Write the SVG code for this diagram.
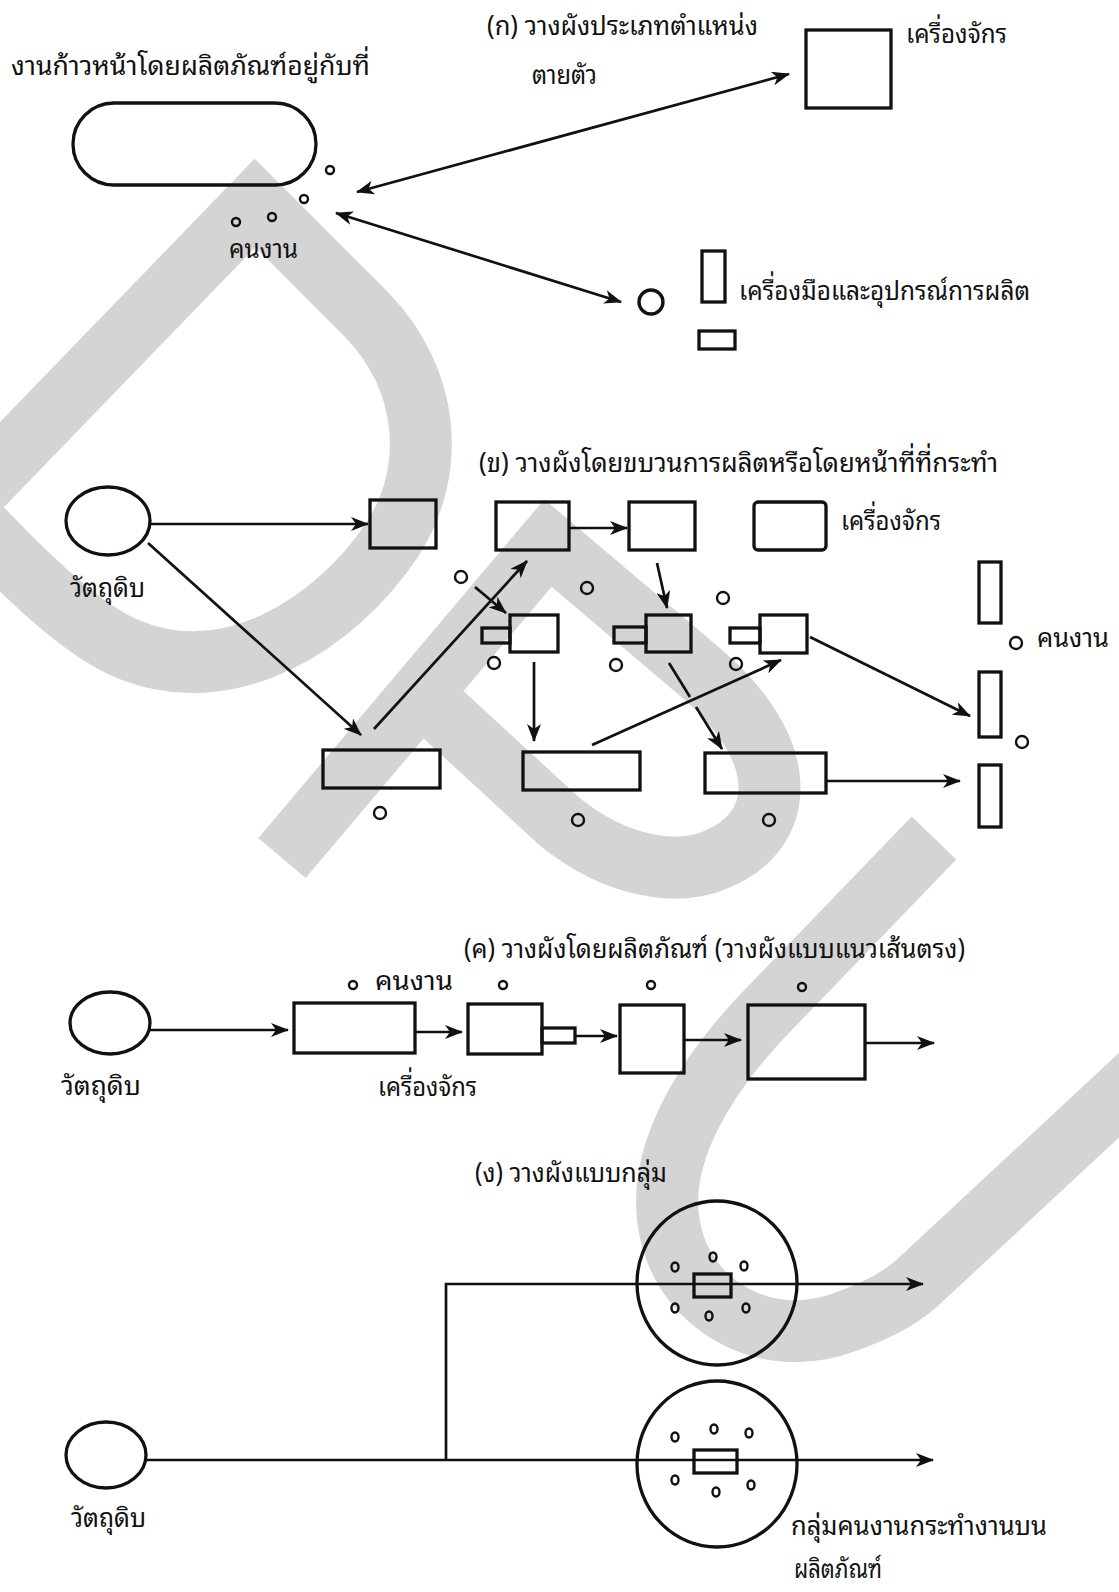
<svg xmlns="http://www.w3.org/2000/svg" width="1119" height="1592" viewBox="0 0 1119 1592">
  <defs>
    <style>
      .wm { fill: none; stroke: #d4d4d4; stroke-width: 62; stroke-linejoin: miter; stroke-miterlimit: 6; }
      .ln { fill: none; stroke: #111; stroke-width: 2.7; }
      .bx { fill: none; stroke: #111; stroke-width: 3.3; }
      .dot { fill: none; stroke: #111; stroke-width: 2.4; }
      .ar { fill: none; stroke: #111; stroke-width: 2.7; marker-end: url(#ah); }
      .ar2 { fill: none; stroke: #111; stroke-width: 2.7; marker-start: url(#ah); marker-end: url(#ah); }
      .t { font-family: "Noto Sans Thai Looped", "Noto Serif Thai", "Noto Sans Thai", "Loma", "Garuda", "DejaVu Sans", "Noto Sans", sans-serif; font-size: 27px; fill: #111; }
    </style>
    <marker id="ah" viewBox="0 0 18 14" refX="17" refY="7" markerWidth="18" markerHeight="14" markerUnits="userSpaceOnUse" orient="auto-start-reverse">
      <path d="M0,0 L18,7 L0,14 L5,7 Z" fill="#111"/>
    </marker>
  </defs>
  <rect width="1119" height="1592" fill="#fff"/>

  <!-- background mark -->
  <g id="mark">
    <path class="wm" d="M255,203 L366,314 C430,380 437,470 392,540 C335,625 230,690 130,650 C80,630 20,570 -39,507 Z"/>
    <path class="wm" d="M282,858 L548,543 L700,672 C790,748 790,830 715,860 C680,875 620,870 560,822 L421,694"/>
    <path class="wm" d="M934,838 L770,1008 C700,1080 655,1160 670,1230 C685,1305 765,1352 845,1322 C870,1313 893,1303 915,1285 L1160,1057"/>
  </g>

  <!-- connectors -->
  <g id="connectors">
    <!-- (a) fixed position -->
    <line class="ar2" x1="357" y1="192" x2="789" y2="74"/>
    <line class="ar2" x1="336" y1="213" x2="621" y2="302"/>
    <!-- (b) process layout -->
    <line class="ar" x1="150" y1="524" x2="368" y2="524"/>
    <line class="ar" x1="148" y1="543" x2="361" y2="735"/>
    <line class="ar" x1="374" y1="729" x2="527" y2="561"/>
    <line class="ar" x1="475" y1="587" x2="506" y2="613"/>
    <line class="ar" x1="570" y1="528" x2="627" y2="528"/>
    <line class="ar" x1="657" y1="563" x2="667" y2="608"/>
    <line class="ar" x1="534" y1="662" x2="534" y2="741"/>
    <line class="ar" x1="592" y1="745" x2="781" y2="660"/>
    <line class="ln" x1="669" y1="663" x2="690" y2="697"/>
    <line class="ar" x1="696" y1="707" x2="722" y2="749"/>
    <line class="ar" x1="810" y1="637" x2="970" y2="716"/>
    <line class="ar" x1="826" y1="781" x2="960" y2="781"/>
    <!-- (c) product layout -->
    <line class="ar" x1="150" y1="1030" x2="288" y2="1030"/>
    <line class="ar" x1="415" y1="1032" x2="462" y2="1032"/>
    <line class="ar" x1="575" y1="1036" x2="617" y2="1036"/>
    <line class="ar" x1="684" y1="1040" x2="741" y2="1040"/>
    <line class="ar" x1="865" y1="1043" x2="934" y2="1043"/>
    <!-- (d) group layout -->
    <line class="ar" x1="146" y1="1460" x2="933" y2="1460"/>
    <polyline class="ar" points="446,1460 446,1284 923,1284"/>
  </g>

  <!-- (a) fixed-position layout -->
  <g id="title-a">
    <text class="t" x="11" y="75" textLength="359" lengthAdjust="spacingAndGlyphs">งานก้าวหน้าโดยผลิตภัณฑ์อยู่กับที่</text>
    <text class="t" x="487" y="35" textLength="271" lengthAdjust="spacingAndGlyphs">(ก)  วางผังประเภทตำแหน่ง</text>
    <text class="t" x="532" y="84" textLength="65" lengthAdjust="spacingAndGlyphs">ตายตัว</text>
  </g>
  <g id="product-a">
    <rect class="bx" x="73" y="103" width="243" height="82" rx="41"/>
  </g>
  <g id="workers-a">
    <circle class="dot" cx="330" cy="170" r="4"/>
    <circle class="dot" cx="304" cy="199" r="4"/>
    <circle class="dot" cx="236" cy="222" r="4"/>
    <circle class="dot" cx="272" cy="217" r="4"/>
    <text class="t" x="229" y="258" textLength="69" lengthAdjust="spacingAndGlyphs">คนงาน</text>
  </g>
  <g id="machine-a">
    <rect class="bx" x="806" y="30" width="85" height="78"/>
    <text class="t" x="906" y="43" textLength="101" lengthAdjust="spacingAndGlyphs">เครื่องจักร</text>
  </g>
  <g id="tools-a">
    <circle class="bx" cx="651" cy="302" r="12"/>
    <rect class="bx" x="702" y="251" width="23" height="51"/>
    <rect class="bx" x="699" y="331" width="36" height="18"/>
    <text class="t" x="739" y="300" textLength="291" lengthAdjust="spacingAndGlyphs">เครื่องมือและอุปกรณ์การผลิต</text>
  </g>

  <!-- (b) process layout -->
  <g id="title-b">
    <text class="t" x="479" y="472" textLength="519" lengthAdjust="spacingAndGlyphs">(ข)  วางผังโดยขบวนการผลิตหรือโดยหน้าที่ที่กระทำ</text>
  </g>
  <g id="raw-b">
    <ellipse class="bx" cx="108" cy="521" rx="42" ry="34"/>
    <text class="t" x="70" y="597" textLength="75" lengthAdjust="spacingAndGlyphs">วัตถุดิบ</text>
  </g>
  <g id="machines-b-top">
    <rect class="bx" x="370" y="500" width="66" height="48"/>
    <rect class="bx" x="496" y="502" width="73" height="48"/>
    <rect class="bx" x="629" y="502" width="66" height="48"/>
    <rect class="bx" x="754" y="502" width="72" height="48" rx="4"/>
    <text class="t" x="841" y="530" textLength="100" lengthAdjust="spacingAndGlyphs">เครื่องจักร</text>
  </g>
  <g id="machines-b-mid">
    <rect class="bx" x="482" y="628" width="28" height="15"/>
    <rect class="bx" x="510" y="615" width="48" height="37"/>
    <rect class="bx" x="614" y="627" width="32" height="16"/>
    <rect class="bx" x="646" y="615" width="45" height="37"/>
    <rect class="bx" x="730" y="628" width="30" height="15"/>
    <rect class="bx" x="760" y="615" width="47" height="38"/>
  </g>
  <g id="machines-b-low">
    <rect class="bx" x="323" y="750" width="117" height="38"/>
    <rect class="bx" x="523" y="752" width="117" height="38"/>
    <rect class="bx" x="705" y="753" width="121" height="40"/>
  </g>
  <g id="stations-b">
    <rect class="bx" x="979" y="562" width="22" height="61"/>
    <rect class="bx" x="979" y="672" width="22" height="65"/>
    <rect class="bx" x="979" y="765" width="22" height="62"/>
  </g>
  <g id="workers-b">
    <circle class="dot" cx="461" cy="577" r="6"/>
    <circle class="dot" cx="587" cy="588" r="6"/>
    <circle class="dot" cx="723" cy="598" r="6"/>
    <circle class="dot" cx="494" cy="663" r="6"/>
    <circle class="dot" cx="616" cy="665" r="6"/>
    <circle class="dot" cx="736" cy="664" r="6"/>
    <circle class="dot" cx="380" cy="813" r="6"/>
    <circle class="dot" cx="578" cy="820" r="6"/>
    <circle class="dot" cx="769" cy="820" r="6"/>
    <circle class="dot" cx="1016" cy="643" r="6"/>
    <circle class="dot" cx="1022" cy="742" r="6"/>
    <text class="t" x="1037" y="647" textLength="72" lengthAdjust="spacingAndGlyphs">คนงาน</text>
  </g>

  <!-- (c) product layout -->
  <g id="title-c">
    <text class="t" x="464" y="958" textLength="501" lengthAdjust="spacingAndGlyphs">(ค)  วางผังโดยผลิตภัณฑ์ (วางผังแบบแนวเส้นตรง)</text>
  </g>
  <g id="raw-c">
    <ellipse class="bx" cx="110" cy="1023" rx="40" ry="31"/>
    <text class="t" x="61" y="1095" textLength="80" lengthAdjust="spacingAndGlyphs">วัตถุดิบ</text>
  </g>
  <g id="line-c">
    <rect class="bx" x="294" y="1003" width="121" height="50"/>
    <rect class="bx" x="468" y="1004" width="74" height="50"/>
    <rect class="bx" x="542" y="1028" width="33" height="15"/>
    <rect class="bx" x="620" y="1005" width="64" height="68"/>
    <rect class="bx" x="748" y="1005" width="117" height="74"/>
    <text class="t" x="378" y="1096" textLength="99" lengthAdjust="spacingAndGlyphs">เครื่องจักร</text>
  </g>
  <g id="workers-c">
    <circle class="dot" cx="353" cy="985" r="4"/>
    <circle class="dot" cx="503" cy="985" r="4"/>
    <circle class="dot" cx="651" cy="985" r="4"/>
    <circle class="dot" cx="802" cy="987" r="4"/>
    <text class="t" x="375" y="990" textLength="78" lengthAdjust="spacingAndGlyphs">คนงาน</text>
  </g>

  <!-- (d) group layout -->
  <g id="title-d">
    <text class="t" x="475" y="1182" textLength="192" lengthAdjust="spacingAndGlyphs">(ง)  วางผังแบบกลุ่ม</text>
  </g>
  <g id="raw-d">
    <ellipse class="bx" cx="106" cy="1455" rx="40" ry="33"/>
    <text class="t" x="71" y="1527" textLength="75" lengthAdjust="spacingAndGlyphs">วัตถุดิบ</text>
  </g>
  <g id="cell-upper">
    <ellipse class="bx" cx="717" cy="1283" rx="80" ry="82"/>
    <rect class="bx" x="694" y="1274" width="37" height="23"/>
    <ellipse class="dot" cx="675" cy="1267" rx="3.5" ry="4.5"/>
    <ellipse class="dot" cx="713" cy="1257" rx="3.5" ry="4.5"/>
    <ellipse class="dot" cx="744" cy="1266" rx="3.5" ry="4.5"/>
    <ellipse class="dot" cx="675" cy="1308" rx="3.5" ry="4.5"/>
    <ellipse class="dot" cx="709" cy="1316" rx="3.5" ry="4.5"/>
    <ellipse class="dot" cx="746" cy="1308" rx="3.5" ry="4.5"/>
  </g>
  <g id="cell-lower">
    <ellipse class="bx" cx="717" cy="1464" rx="80" ry="83"/>
    <rect class="bx" x="694" y="1450" width="43" height="23"/>
    <ellipse class="dot" cx="675" cy="1437" rx="3.5" ry="4.5"/>
    <ellipse class="dot" cx="714" cy="1429" rx="3.5" ry="4.5"/>
    <ellipse class="dot" cx="749" cy="1433" rx="3.5" ry="4.5"/>
    <ellipse class="dot" cx="675" cy="1480" rx="3.5" ry="4.5"/>
    <ellipse class="dot" cx="716" cy="1492" rx="3.5" ry="4.5"/>
    <ellipse class="dot" cx="751" cy="1485" rx="3.5" ry="4.5"/>
    <text class="t" x="791" y="1535" textLength="256" lengthAdjust="spacingAndGlyphs">กลุ่มคนงานกระทำงานบน</text>
    <text class="t" x="794" y="1578" textLength="88" lengthAdjust="spacingAndGlyphs">ผลิตภัณฑ์</text>
  </g>
</svg>
